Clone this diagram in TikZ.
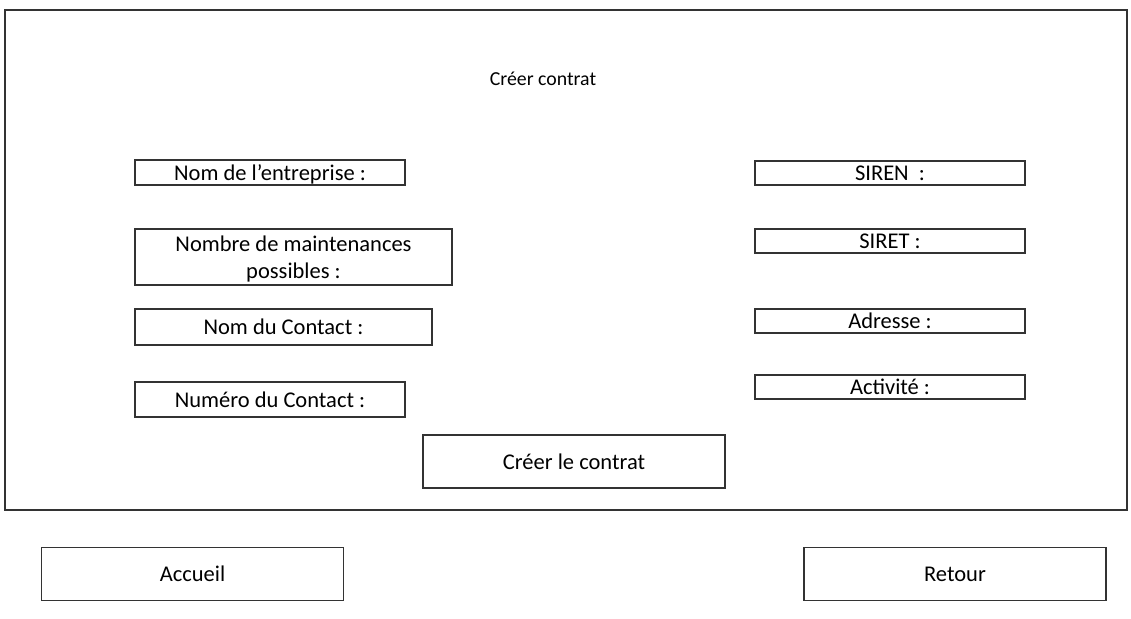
\documentclass[tikz,border=0pt]{standalone}
\usepackage{fontspec}
\setmainfont{Carlito}
\usepackage{tikz}

\begin{document}
\begin{tikzpicture}[x=1pt,y=-1pt,
             champ/.style={draw=black!80, line width=1.2pt, inner sep=0pt, align=center, text depth=0pt, font=\fontsize{22.5}{27}\selectfont},
             bouton/.style={champ, minimum width=302pt, minimum height=53pt}]
             \useasboundingbox (0,0) rectangle (1131,618);
             \node[draw=black!80, line width=1.2pt, minimum width=1122pt, minimum height=500pt, inner sep=0pt] (cadre) at (566,260) {};
             \node[font=\fontsize{19.8}{24}\selectfont] (titre) at (543,79) {Créer contrat};
             \node[champ, minimum width=270pt, minimum height=25pt] (entreprise) at (270,172.5) {Nom de l’entreprise :};
             \node[champ, minimum width=317pt, minimum height=56pt] (maintenances) at (293.5,257) {Nombre de maintenances\\possibles :};
             \node[champ, minimum width=297pt, minimum height=36pt] (contact) at (283.5,327) {Nom du Contact :};
             \node[champ, minimum width=270pt, minimum height=35pt] (numero) at (270,399.5) {Numéro du Contact :};
             \node[champ, minimum width=270pt, minimum height=24pt] (siren) at (890,173) {SIREN\ \ :};
             \node[champ, minimum width=270pt, minimum height=24pt] (siret) at (890,241) {SIRET :};
             \node[champ, minimum width=270pt, minimum height=24pt] (adresse) at (890,321) {Adresse :};
             \node[champ, minimum width=270pt, minimum height=24pt] (activite) at (890,387) {Activité :};
             \node[bouton] (creer) at (574,461.5) {Créer le contrat};
             \node[bouton] (accueil) at (192.5,574) {Accueil};
             \node[bouton] (retour) at (955,574) {Retour};
            \end{tikzpicture}
\end{document}
